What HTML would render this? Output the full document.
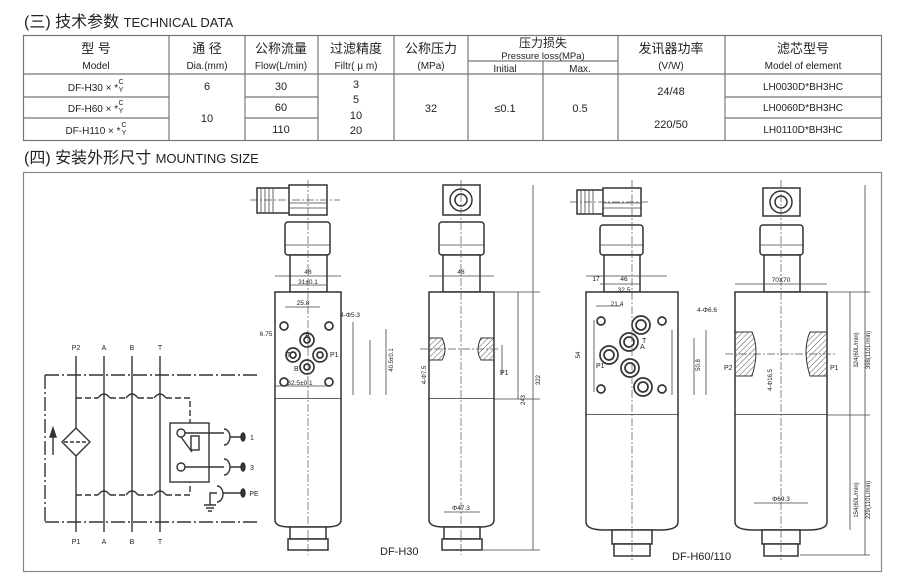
<!DOCTYPE html>
<html><head><meta charset="utf-8"><style>
html,body{margin:0;padding:0;background:#fff;}
body{width:900px;height:587px;overflow:hidden;position:relative;font-family:"Liberation Sans","Noto Sans CJK SC",sans-serif;}
svg{position:absolute;left:0;top:0;}
text{font-family:"Liberation Sans","Noto Sans CJK SC",sans-serif;fill:#222;}
</style></head><body>
<svg width="900" height="587" viewBox="0 0 900 587">
<defs>
<pattern id="h" width="4" height="4" patternUnits="userSpaceOnUse" patternTransform="rotate(45)"><line x1="0" y1="0" x2="0" y2="4" stroke="#555" stroke-width="1"/></pattern>
</defs>
<!-- titles -->
<text x="24" y="27" font-size="16">(三) 技术参数 <tspan font-size="13">TECHNICAL DATA</tspan></text>
<text x="24" y="163" font-size="16">(四) 安装外形尺寸 <tspan font-size="13">MOUNTING SIZE</tspan></text>
<!-- table -->
<g stroke="#777" stroke-width="1.2" fill="none">
<rect x="23.5" y="35.5" width="858" height="105"/>
<line x1="23" y1="74" x2="882" y2="74"/>
<line x1="23" y1="97" x2="169" y2="97"/><line x1="23" y1="118" x2="169" y2="118"/>
<line x1="245" y1="97" x2="318" y2="97"/><line x1="245" y1="118" x2="318" y2="118"/>
<line x1="725" y1="97" x2="882" y2="97"/><line x1="725" y1="118" x2="882" y2="118"/>
<line x1="169" y1="35" x2="169" y2="140"/><line x1="245" y1="35" x2="245" y2="140"/>
<line x1="318" y1="35" x2="318" y2="140"/><line x1="394" y1="35" x2="394" y2="140"/>
<line x1="468" y1="35" x2="468" y2="140"/><line x1="543" y1="61" x2="543" y2="140"/>
<line x1="618" y1="35" x2="618" y2="140"/><line x1="725" y1="35" x2="725" y2="140"/>
<line x1="468" y1="61" x2="618" y2="61"/>
</g>
<g font-size="11" text-anchor="middle">
<text x="96" y="53" font-size="13">型 号</text><text x="96" y="69" font-size="10">Model</text>
<text x="207" y="53" font-size="13">通 径</text><text x="207" y="69" font-size="10">Dia.(mm)</text>
<text x="281" y="53" font-size="13">公称流量</text><text x="281" y="69" font-size="10">Flow(L/min)</text>
<text x="356" y="53" font-size="13">过滤精度</text><text x="356" y="69" font-size="10">Filtr( μ m)</text>
<text x="431" y="53" font-size="13">公称压力</text><text x="431" y="69" font-size="10">(MPa)</text>
<text x="543" y="47" font-size="12">压力损失</text><text x="543" y="59" font-size="9.5">Pressure loss(MPa)</text>
<text x="505" y="72" font-size="10">Initial</text><text x="580" y="72" font-size="10">Max.</text>
<text x="671" y="53" font-size="13">发讯器功率</text><text x="671" y="69" font-size="10">(V/W)</text>
<text x="803" y="53" font-size="13">滤芯型号</text><text x="803" y="69" font-size="10">Model of element</text>
<text x="93" y="91" font-size="10">DF-H30 × *</text><text x="93" y="112" font-size="10">DF-H60 × *</text><text x="93" y="134" font-size="10">DF-H110 × *</text>
<text x="121" y="84" font-size="7">C</text><text x="121" y="92" font-size="7">Y</text>
<text x="121" y="105" font-size="7">C</text><text x="121" y="113" font-size="7">Y</text>
<text x="124" y="127" font-size="7">C</text><text x="124" y="135" font-size="7">Y</text>
<text x="207" y="90">6</text><text x="207" y="122">10</text>
<text x="281" y="90">30</text><text x="281" y="111">60</text><text x="281" y="133">110</text>
<text x="356" y="88">3</text><text x="356" y="103">5</text><text x="356" y="119">10</text><text x="356" y="134">20</text>
<text x="431" y="112">32</text>
<text x="505" y="112">≤0.1</text><text x="580" y="112">0.5</text>
<text x="671" y="95">24/48</text><text x="671" y="128">220/50</text>
<text x="803" y="90" font-size="10">LH0030D*BH3HC</text><text x="803" y="111" font-size="10">LH0060D*BH3HC</text><text x="803" y="133" font-size="10">LH0110D*BH3HC</text>
</g>
<!-- frame -->
<rect x="23.5" y="172.5" width="858" height="399" fill="none" stroke="#888" stroke-width="1.2"/>

<!-- schematic -->
<g stroke="#333" stroke-width="1.4" fill="none">
<path d="M45 375 H260 M45 522 H260 M45 375 V522" stroke-dasharray="14,3,2,3"/>
<line x1="76" y1="356" x2="76" y2="428"/><line x1="76" y1="456" x2="76" y2="532"/>
<line x1="104" y1="356" x2="104" y2="532"/><line x1="132" y1="356" x2="132" y2="532"/><line x1="160" y1="356" x2="160" y2="532"/>
<path d="M62 442 L76 428 L90 442 L76 456 Z"/><line x1="64" y1="442" x2="88" y2="442" stroke-dasharray="4,2"/>
<line x1="53" y1="455" x2="53" y2="432"/><path d="M50 437 L53 428 L56 437Z" fill="#333"/>
<path d="M76 398 H98 M110 398 H126 M138 398 H154 M166 398 H190 V423" stroke-dasharray="6,3"/>
<path d="M98 398 Q104 390 110 398 M126 398 Q132 390 138 398 M154 398 Q160 390 166 398"/>
<path d="M76 495 H98 M110 495 H126 M138 495 H154 M166 495 H190 V482" stroke-dasharray="6,3"/>
<path d="M98 495 Q104 487 110 495 M126 495 Q132 487 138 495 M154 495 Q160 487 166 495"/>
<rect x="170" y="423" width="39" height="59"/>
<circle cx="181" cy="433" r="4"/><circle cx="181" cy="467" r="4"/>
<path d="M181 437 L192 452"/><rect x="191" y="436" width="8" height="14"/>
<path d="M185 433 H224 M185 467 H224"/>
<path d="M224 429 A6 8 0 0 1 224 445 M224 459 A6 8 0 0 1 224 475 M217 486 A6 8 0 0 1 217 502"/>
<path d="M230 437 H242 M230 467 H242 M223 493 H242 M217 493 H210 V505 M204 505 H216 M206 508 H214 M208 511 H212"/>
<ellipse cx="243" cy="437" rx="2" ry="4" fill="#333"/><ellipse cx="243" cy="467" rx="2" ry="4" fill="#333"/><ellipse cx="243" cy="493" rx="2" ry="4" fill="#333"/>
</g>
<g font-size="7" text-anchor="middle">
<text x="76" y="350">P2</text><text x="104" y="350">A</text><text x="132" y="350">B</text><text x="160" y="350">T</text>
<text x="76" y="544">P1</text><text x="104" y="544">A</text><text x="132" y="544">B</text><text x="160" y="544">T</text>
<text x="252" y="440">1</text><text x="252" y="470">3</text><text x="254" y="496">PE</text>
</g>

<g stroke="#333" stroke-width="1.5" fill="#fff">
<!-- View1 -->
<rect x="257" y="188" width="33" height="25"/><rect x="289" y="185" width="38" height="30"/>
<rect x="285" y="222" width="45" height="33" rx="3"/><rect x="290" y="255" width="37" height="37"/>
<rect x="275" y="292" width="66" height="107"/>
<path d="M275 399 V520 Q275 527 290 527 H326 Q341 527 341 520 V399"/>
<rect x="290" y="527" width="36" height="12"/><rect x="288" y="539" width="40" height="11"/>
<!-- View2 -->
<rect x="443" y="185" width="37" height="30"/><circle cx="461" cy="200" r="11"/><circle cx="461" cy="200" r="6"/>
<rect x="439" y="222" width="45" height="33" rx="3"/><rect x="443" y="255" width="37" height="37"/>
<rect x="429" y="292" width="65" height="107"/>
<path d="M429 399 V520 Q429 527 444 527 H480 Q494 527 494 520 V399"/>
<rect x="444" y="527" width="36" height="12"/><rect x="442" y="539" width="40" height="11"/>
<!-- View3 -->
<rect x="577" y="190" width="27" height="24"/><rect x="603" y="188" width="38" height="28"/>
<rect x="600" y="225" width="43" height="30" rx="3"/><rect x="604" y="255" width="36" height="37"/>
<rect x="586" y="292" width="92" height="123"/>
<path d="M586 415 V522 Q586 530 605 530 H660 Q678 530 678 522 V415"/>
<rect x="612" y="530" width="40" height="14"/><rect x="614" y="544" width="36" height="12"/>
<!-- View4 -->
<rect x="763" y="188" width="37" height="28"/><circle cx="781" cy="202" r="11"/><circle cx="781" cy="202" r="6"/>
<rect x="760" y="225" width="43" height="30" rx="3"/><rect x="764" y="255" width="36" height="37"/>
<rect x="735" y="292" width="92" height="123"/>
<path d="M735 415 V522 Q735 530 754 530 H808 Q827 530 827 522 V415"/>
<rect x="762" y="530" width="38" height="14"/><rect x="764" y="544" width="34" height="12"/>
</g>
<!-- knob ribs -->
<g stroke="#444" stroke-width="0.8">
<path d="M261 188 V213 M265 188 V213 M269 188 V213 M273 188 V213 M581 190 V214 M585 190 V214 M589 190 V214 M593 190 V214"/>
<path d="M289 203 H327 M289 208 H327 M603 203 H641 M603 208 H641 M285 245 H330 M439 245 H484 M600 245 H643 M760 245 H803"/>
</g>
<g stroke="#333" stroke-width="1.7" fill="none">
<circle cx="307" cy="340" r="7"/><circle cx="307" cy="340" r="3"/>
<circle cx="293" cy="355" r="7"/><circle cx="293" cy="355" r="3"/>
<circle cx="320" cy="355" r="7"/><circle cx="320" cy="355" r="3"/>
<circle cx="307" cy="367" r="7"/><circle cx="307" cy="367" r="3"/>
<circle cx="284" cy="326" r="4"/><circle cx="329" cy="326" r="4"/><circle cx="284" cy="382" r="4"/><circle cx="329" cy="382" r="4"/>
<circle cx="641" cy="325" r="9"/><circle cx="641" cy="325" r="5"/>
<circle cx="629" cy="342" r="9"/><circle cx="629" cy="342" r="5"/>
<circle cx="609" cy="355" r="9"/><circle cx="609" cy="355" r="5"/>
<circle cx="630" cy="368" r="9"/><circle cx="630" cy="368" r="5"/>
<circle cx="643" cy="387" r="9"/><circle cx="643" cy="387" r="5"/>
<circle cx="601" cy="321" r="4"/><circle cx="662" cy="321" r="4"/><circle cx="601" cy="389" r="4"/><circle cx="662" cy="389" r="4"/>
</g>
<g stroke="#333" stroke-width="1" fill="url(#h)">
<path d="M429 338 H442 Q448 350 442 360 H429 Z"/><path d="M494 338 H481 Q475 350 481 360 H494 Z"/>
<path d="M735 332 H752 Q760 350 752 376 H735 Z"/><path d="M827 332 H810 Q802 350 810 376 H827 Z"/>
</g>
<g stroke="#555" stroke-width="0.7" stroke-dasharray="8,2,2,2" fill="none">
<line x1="308" y1="180" x2="308" y2="555"/><line x1="461" y1="180" x2="461" y2="555"/>
<line x1="632" y1="180" x2="632" y2="560"/><line x1="781" y1="180" x2="781" y2="560"/>
<line x1="250" y1="200" x2="340" y2="200"/><line x1="570" y1="202" x2="650" y2="202"/>
<line x1="420" y1="349" x2="500" y2="349"/><line x1="725" y1="354" x2="835" y2="354"/>
</g>
<g stroke="#444" stroke-width="0.8" fill="none">
<path d="M275 276 H341 M290 285 H327 M285 307 H320 M275 386 H327"/>
<path d="M353 322 V395 M370 340 V395 M386 329 V395 M518 292 V399 M533 185 V550 M502 345 V375"/>
<path d="M429 276 H494 M444 512 H480"/>
<path d="M586 276 H667 M600 284 H640 M596 306 H621"/>
<path d="M594 320 V392 M672 330 V395 M694 338 V395 M706 330 V395 M850 292 V530 M865 185 V555"/>
<path d="M735 284 H827 M754 503 H808"/>
<path d="M494 292 H540 M494 399 H540 M827 292 H870 M827 415 H870 M800 555 H870 M480 550 H540"/>
</g>
<g font-size="6.5" fill="#333" text-anchor="middle">
<text x="308" y="274">48</text><text x="308" y="284">31±0.1</text><text x="303" y="305">25.8</text>
<text x="300" y="385">32.5±0.1</text><text x="350" y="317">4-Φ5.3</text><text x="266" y="336">6.75</text>
<text x="461" y="274">48</text><text x="461" y="510">Φ47.3</text>
<text x="596" y="281">17</text><text x="624" y="281">46</text><text x="624" y="292">32.5</text>
<text x="617" y="306">21.4</text><text x="707" y="312">4-Φ6.6</text>
<text x="781" y="282">70X70</text><text x="781" y="501">Φ69.3</text>
</g>
<g font-size="6" fill="#333" text-anchor="middle">
<text transform="translate(525,400) rotate(-90)">243</text>
<text transform="translate(540,380) rotate(-90)">322</text>
<text transform="translate(858,350) rotate(-90)">324(60L/min)</text>
<text transform="translate(870,350) rotate(-90)">398(110L/min)</text>
<text transform="translate(858,500) rotate(-90)">154(60L/min)</text>
<text transform="translate(870,500) rotate(-90)">229(110L/min)</text>
<text transform="translate(580,355) rotate(-90)">54</text>
<text transform="translate(700,365) rotate(-90)">50.8</text>
<text transform="translate(393,360) rotate(-90)">40.5±0.1</text>
<text transform="translate(426,375) rotate(-90)">4-Φ7.5</text>
<text transform="translate(772,380) rotate(-90)">4-Φ16.5</text>
</g>
<g font-size="7" fill="#333">
<text x="500" y="375">P1</text><text x="724" y="370">P2</text><text x="830" y="370">P1</text>
<text x="305" y="337">A</text><text x="286" y="357">T</text><text x="330" y="357">P1</text><text x="294" y="371">B</text>
<text x="642" y="343">T</text><text x="640" y="349">A</text><text x="596" y="368">P1</text>
</g>
<text x="380" y="555" font-size="11">DF-H30</text>
<text x="672" y="560" font-size="11">DF-H60/110</text>
</svg>
</body></html>
